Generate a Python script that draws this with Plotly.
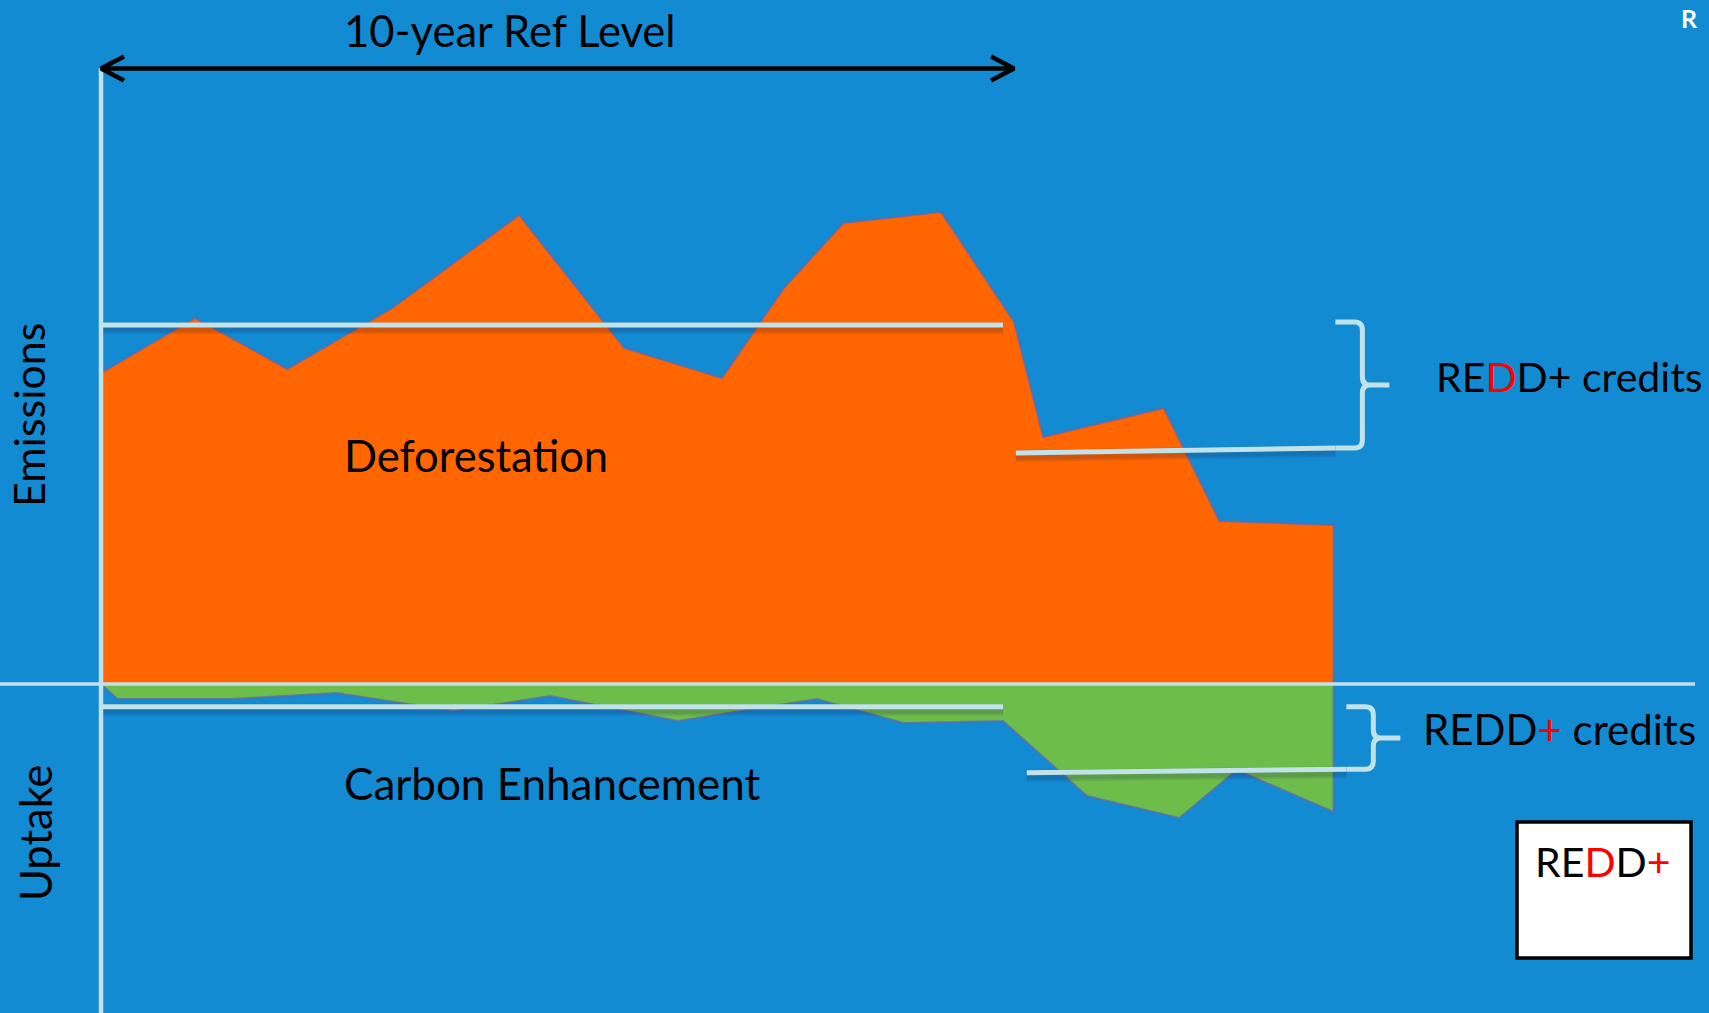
import plotly.graph_objects as go

# ---- data: emissions (above zero) and uptake (below zero) over time, in years ----
years_emis = [0.0, 1.03, 2.04, 3.19, 4.58, 5.73, 6.80, 7.48, 8.13, 9.20, 10.0, 10.32, 11.64, 12.25, 13.50]
emissions = [31.1, 36.6, 31.5, 37.6, 46.9, 33.6, 30.6, 39.6, 46.1, 47.2, 36.2, 24.7, 27.6, 16.3, 15.9]

years_uptake = [0.0, 0.18, 1.43, 2.58, 3.86, 4.92, 6.32, 7.84, 8.79, 9.88, 10.80, 11.81, 12.44, 13.50]
uptake = [0.0, -1.5, -1.5, -0.9, -2.7, -1.2, -3.7, -1.5, -3.9, -3.7, -11.2, -13.4, -8.6, -12.8]

ref_period = [0.0, 10.0]          # 10-year reference period
ref_line_years = [0.0, 9.88]
ref_emissions = [35.9, 35.9]      # reference level for emissions
ref_uptake = [-2.27, -2.27]       # reference level for uptake

post_years_emis = [10.02, 13.52]
post_emissions = [23.1, 23.6]
post_years_uptake = [10.14, 13.64]
post_uptake = [-8.87, -8.53]

# ---- page geometry ----
W, H = 1709, 1013
X0_PX, PX_PER_YEAR = 101, 91.3
Y0_PX, PX_PER_UNIT = 684, 10.0
x_range = [-X0_PX / PX_PER_YEAR, (W - X0_PX) / PX_PER_YEAR]
y_range = [-(H - Y0_PX) / PX_PER_UNIT, Y0_PX / PX_PER_UNIT]

BG = "#128bd2"
ORANGE = "#ff6600"
GREEN = "#6dbd4b"
LIGHT = "#c0e2e8"
EDGE = "rgba(95,105,175,0.75)"
SHADOW = "rgba(30,30,70,0.11)"
FONT = "Lato, Carlito, 'Open Sans', sans-serif"


def px_x(px):
    return px / W


def px_y(py):
    return 1 - py / H


fig = go.Figure()

# emissions area
fig.add_trace(go.Scatter(
    x=years_emis + [years_emis[-1], years_emis[0]],
    y=emissions + [0, 0],
    fill="toself", fillcolor=ORANGE, mode="lines",
    line=dict(color=EDGE, width=2), hoverinfo="skip", showlegend=False))

# uptake area
fig.add_trace(go.Scatter(
    x=years_uptake + [years_uptake[-1], years_uptake[0]],
    y=uptake + [0, 0],
    fill="toself", fillcolor=GREEN, mode="lines",
    line=dict(color=EDGE, width=2), hoverinfo="skip", showlegend=False))

shadow_off = 0.3


def level_line(xs, ys):
    # soft shadow under each level line, then the line itself
    for w in (12, 8):
        fig.add_trace(go.Scatter(x=xs, y=[v - shadow_off for v in ys], mode="lines",
                                 line=dict(color=SHADOW, width=w),
                                 hoverinfo="skip", showlegend=False))
    fig.add_trace(go.Scatter(x=xs, y=ys, mode="lines",
                             line=dict(color=LIGHT, width=5),
                             hoverinfo="skip", showlegend=False))


level_line(ref_line_years, ref_emissions)
level_line(post_years_emis, post_emissions)
level_line(ref_line_years, ref_uptake)
level_line(post_years_uptake, post_uptake)

# zero line and the vertical axis
arrow_level = (Y0_PX - 68.5) / PX_PER_UNIT
fig.add_trace(go.Scatter(x=[x_range[0], (1695 - X0_PX) / PX_PER_YEAR], y=[0, 0], mode="lines",
                         line=dict(color=LIGHT, width=3.5), hoverinfo="skip", showlegend=False))
fig.add_trace(go.Scatter(x=[0, 0], y=[arrow_level, y_range[0]], mode="lines",
                         line=dict(color=LIGHT, width=4.5), hoverinfo="skip", showlegend=False))

# double-headed arrow spanning the reference period
head_dx = 23 / PX_PER_YEAR
head_dy = 12 / PX_PER_UNIT
a0, a1 = ref_period
fig.add_trace(go.Scatter(
    x=[a0 + head_dx, a0, a0 + head_dx, None, a0, a1, None, a1 - head_dx, a1, a1 - head_dx],
    y=[arrow_level + head_dy, arrow_level, arrow_level - head_dy, None,
       arrow_level, arrow_level, None,
       arrow_level + head_dy, arrow_level, arrow_level - head_dy],
    mode="lines", line=dict(color="black", width=4.5),
    hoverinfo="skip", showlegend=False))


def brace_path(x_left, y_top, y_bot):
    spine = x_left + 27 / PX_PER_YEAR
    tip = spine + 27 / PX_PER_YEAR
    rx = 8 / PX_PER_YEAR
    ry = 8 / PX_PER_UNIT
    ym = (y_top + y_bot) / 2
    return (f"M {x_left},{y_top} L {spine - rx},{y_top} Q {spine},{y_top} {spine},{y_top - ry} "
            f"L {spine},{ym + ry} Q {spine},{ym} {spine + rx},{ym} L {tip},{ym} "
            f"L {spine + rx},{ym} Q {spine},{ym} {spine},{ym - ry} "
            f"L {spine},{y_bot + ry} Q {spine},{y_bot} {spine - rx},{y_bot} L {x_left},{y_bot}")


shapes = [
    dict(type="path", xref="x", yref="y",
         path=brace_path(post_years_emis[-1], ref_emissions[0] + 0.3, post_emissions[-1]),
         line=dict(color=LIGHT, width=5)),
    dict(type="path", xref="x", yref="y",
         path=brace_path(post_years_uptake[-1], ref_uptake[0], post_uptake[-1]),
         line=dict(color=LIGHT, width=5)),
    dict(type="rect", xref="paper", yref="paper",
         x0=px_x(1517), x1=px_x(1691), y0=px_y(958), y1=px_y(822),
         fillcolor="white", line=dict(color="black", width=3.5)),
]

RED = "#ff0000"


def label(text, x, y, xanchor="left", size=41, angle=0, color="black", bold=False):
    return dict(text=f"<b>{text}</b>" if bold else text,
                x=px_x(x), y=px_y(y), xref="paper", yref="paper",
                xanchor=xanchor, yanchor="middle", showarrow=False, textangle=angle,
                font=dict(family=FONT, size=size, color=color))


annotations = [
    label("10-year Ref Level", 510, 30, xanchor="center", size=43.5),
    label("Deforestation", 342, 455, size=43.5),
    label("Carbon Enhancement", 342, 783, size=44),
    label(f"RE<span style='color:{RED}'>D</span>D+ credits", 1434, 377, size=41),
    label(f"REDD<span style='color:{RED}'>+</span> credits", 1421, 729, size=42),
    label(f"RE<span style='color:{RED}'>D</span>D<span style='color:{RED}'>+</span>",
          1603, 861, xanchor="center", size=41),
    label("Emissions", 28, 415, xanchor="center", angle=-90, size=43),
    label("Uptake", 35, 833, xanchor="center", angle=-90, size=43.5),
    label("R", 1679, 18, size=25, color="white", bold=True),
]

fig.update_layout(
    width=W, height=H,
    margin=dict(l=0, r=0, t=0, b=0),
    paper_bgcolor=BG, plot_bgcolor=BG,
    xaxis=dict(range=x_range, visible=False, fixedrange=True),
    yaxis=dict(range=y_range, visible=False, fixedrange=True),
    shapes=shapes, annotations=annotations,
    showlegend=False,
)

fig.write_html("out.html", config={"displayModeBar": False})
